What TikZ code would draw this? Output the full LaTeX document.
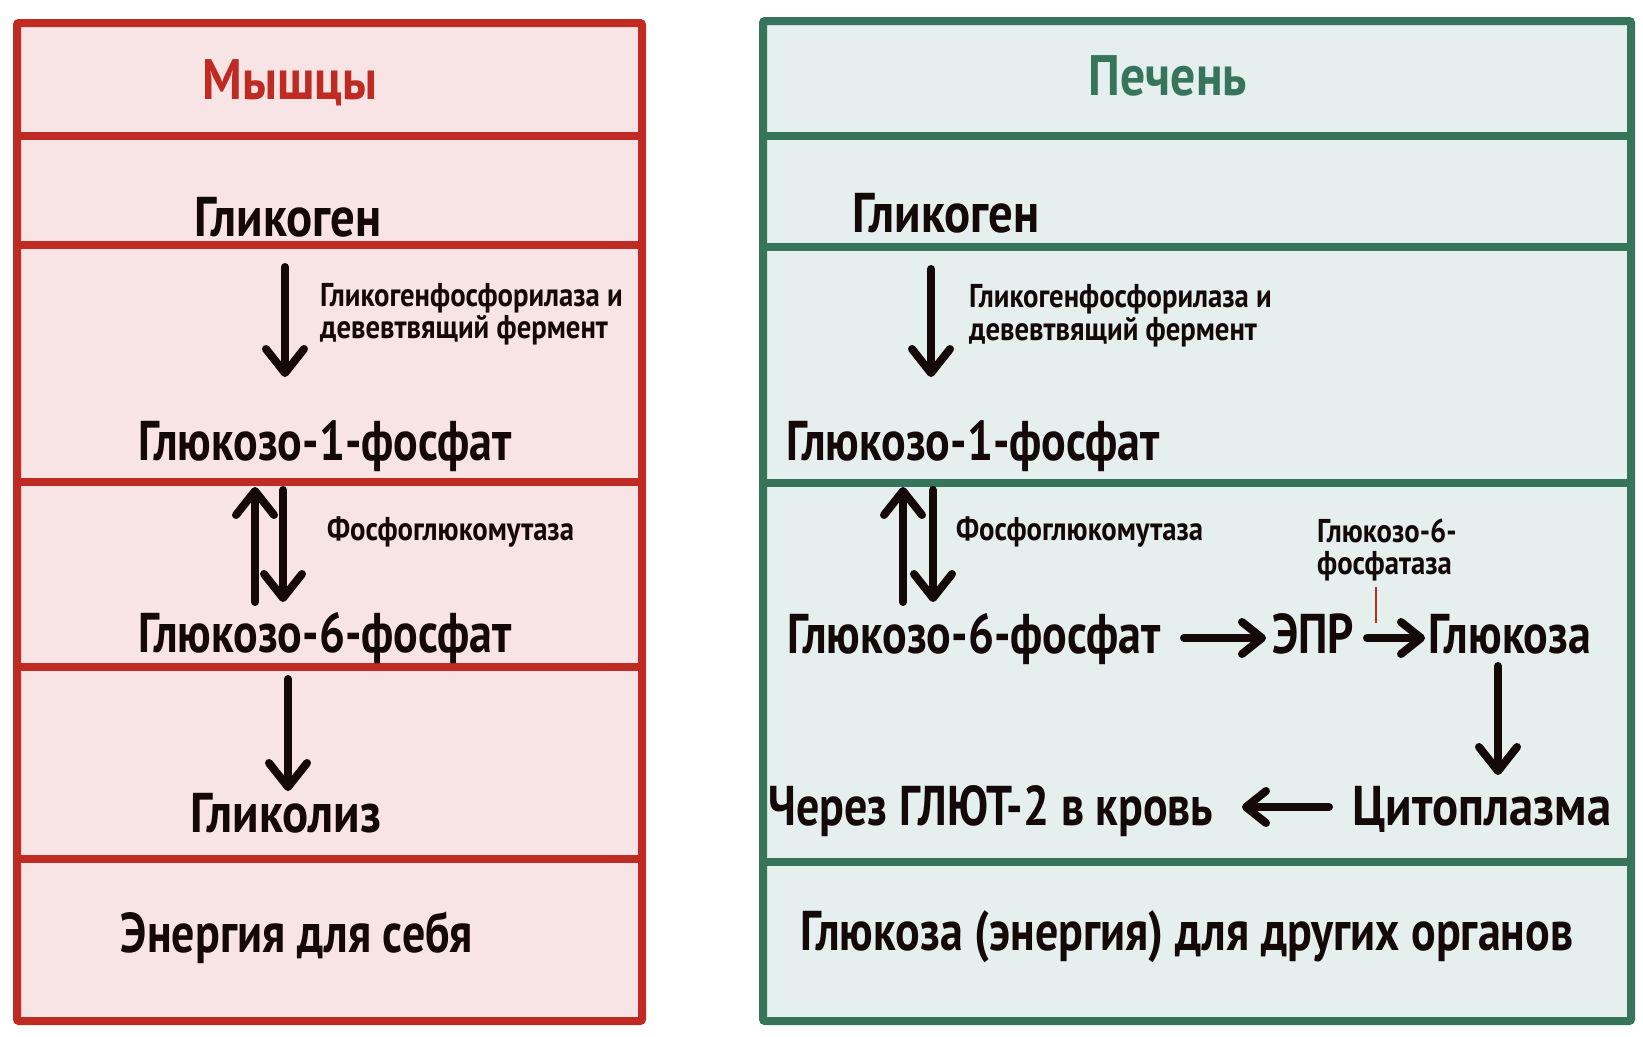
\documentclass[tikz,border=0pt]{standalone}
\usepackage{fontspec}
\usetikzlibrary{arrows.meta}
\newfontfamily\hand[FakeStretch=0.82,BoldFont={* Bold}]{PT Sans}
\newfontfamily\handw[FakeStretch=0.87,BoldFont={* Bold}]{PT Sans}
\definecolor{mred}{HTML}{BF2B22}
\definecolor{mpink}{HTML}{F8E4E4}
\definecolor{lgreen}{HTML}{36745B}
\definecolor{lfill}{HTML}{E4EFEE}
\definecolor{ink}{HTML}{140808}
\tikzset{
  big/.style={font=\hand\bfseries\fontsize{56}{60}\selectfont, text=ink, inner sep=0pt, anchor=base},
  bigw/.style={font=\handw\bfseries\fontsize{56}{60}\selectfont, text=ink, inner sep=0pt, anchor=base},
  small/.style={font=\handw\bfseries\fontsize{33}{33}\selectfont, text=ink, inner sep=0pt, anchor=base west},
  title/.style={font=\handw\bfseries\fontsize{57}{60}\selectfont, inner sep=0pt, anchor=base},
  flow/.style={line width=8pt, draw=ink, line cap=round, -{Straight Barb[length=24pt,width=38pt,round]}},
  hflow/.style={line width=8pt, draw=ink, line cap=round, -{Straight Barb[length=20pt,width=32pt,round]}},
  panelred/.style={draw=mred, fill=mpink, line width=8pt, rounded corners=2pt},
  panelgreen/.style={draw=lgreen, fill=lfill, line width=8pt, rounded corners=2pt},
}
\begin{document}
\begin{tikzpicture}[x=1pt,y=-1pt]
\useasboundingbox (0,0) rectangle (1643,1036);
\fill[white] (0,0) rectangle (1643,1036);
% left panel
\draw[panelred] (17,23) rectangle (642,1021);
\foreach \yy in {136,245,482,667,859} \draw[mred, line width=8pt] (17,\yy) -- (642,\yy);
% right panel
\draw[panelgreen] (763,21) rectangle (1631,1021);
\foreach \yy in {136,247,483,862} \draw[lgreen, line width=8pt] (763,\yy) -- (1631,\yy);

% left texts
\node[title, text=mred] (mtitle) at (290,99) {Мышцы};
\node[bigw] (mgly) at (288,236) {Гликоген};
\node[small] (menz1) at (320,306) {Гликогенфосфорилаза и};
\node[small] (menz2) at (320,338) {девевтвящий фермент};
\node[big] (mg1p) at (325,460) {Глюкозо-1-фосфат};
\node[small] (mpgm) at (327,540) {Фосфоглюкомутаза};
\node[big] (mg6p) at (325,652) {Глюкозо-6-фосфат};
\node[bigw] (mglyc) at (286,832) {Гликолиз};
\node[big] (men) at (297,952) {Энергия для себя};

% left arrows
\coordinate (ma1s) at (285,267); \coordinate (ma1e) at (285,377);
\coordinate (mups) at (255,602); \coordinate (mupe) at (255,487);
\coordinate (mdns) at (283,490); \coordinate (mdne) at (283,602);
\coordinate (ma2s) at (288,679); \coordinate (ma2e) at (288,791);
\draw[flow] (ma1s) -- (ma1e);
\draw[flow] (mups) -- (mupe);
\draw[flow] (mdns) -- (mdne);
\draw[flow] (ma2s) -- (ma2e);

% right texts
\node[title, text=lgreen] (ltitle) at (1168,95) {Печень};
\node[bigw] (lgly) at (946,232) {Гликоген};
\node[small] (lenz1) at (969,307) {Гликогенфосфорилаза и};
\node[small] (lenz2) at (969,340) {девевтвящий фермент};
\node[big] (lg1p) at (973,460) {Глюкозо-1-фосфат};
\node[small] (lpgm) at (956,540) {Фосфоглюкомутаза};
\node[small] (lg6pa1) at (1317,542) {Глюкозо-6-};
\node[small] (lg6pa2) at (1317,574) {фосфатаза};
\node[big] (lg6p) at (974,653) {Глюкозо-6-фосфат};
\node[big] (lepr) at (1313,653) {ЭПР};
\node[big] (lglu) at (1510,653) {Глюкоза};
\node[bigw] (lcyt) at (1482,825) {Цитоплазма};
\node[big] (lglut) at (991,825) {Через ГЛЮТ-2 в кровь};
\node[big] (lout) at (1187,950) {Глюкоза (энергия) для других органов};

% right arrows
\coordinate (la1s) at (931,269); \coordinate (la1e) at (931,377);
\coordinate (lups) at (903,602); \coordinate (lupe) at (903,487);
\coordinate (ldns) at (933,490); \coordinate (ldne) at (933,602);
\coordinate (lh1s) at (1184,638); \coordinate (lh1e) at (1266,638);
\coordinate (lh2s) at (1367,638); \coordinate (lh2e) at (1425,638);
\coordinate (lvs) at (1498,666); \coordinate (lve) at (1498,775);
\coordinate (lls) at (1329,807); \coordinate (lle) at (1242,807);
\coordinate (lts) at (1376,587); \coordinate (lte) at (1376,623);
\draw[flow] (la1s) -- (la1e);
\draw[flow] (lups) -- (lupe);
\draw[flow] (ldns) -- (ldne);
\draw[hflow] (lh1s) -- (lh1e);
\draw[hflow] (lh2s) -- (lh2e);
\draw[flow] (lvs) -- (lve);
\draw[hflow] (lls) -- (lle);
\draw[mred, line width=2.2pt] (lts) -- (lte);
\end{tikzpicture}
\end{document}
